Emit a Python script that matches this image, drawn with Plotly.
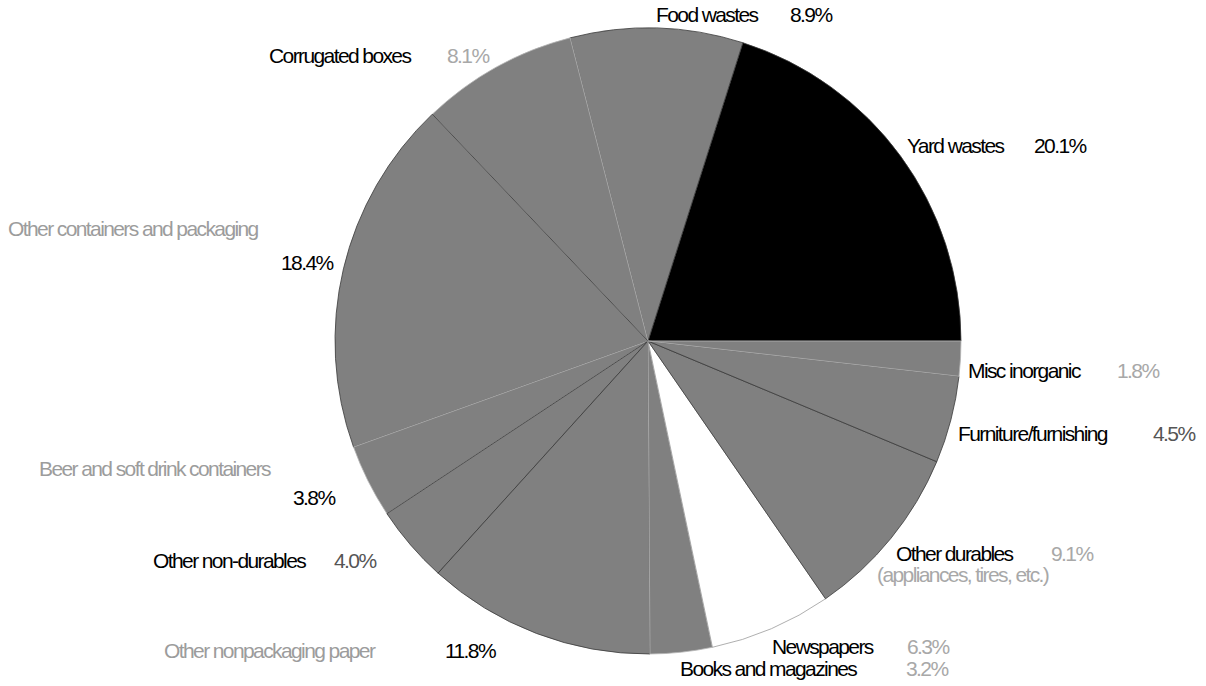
import plotly.graph_objects as go

# ---- data ----
categories = ["Yard wastes", "Food wastes", "Corrugated boxes", "Other containers and packaging",
              "Beer and soft drink containers", "Other non-durables", "Other nonpackaging paper",
              "Books and magazines", "Newspapers", "Other durables", "Furniture/furnishing",
              "Misc inorganic"]
values = [20.1, 8.9, 8.1, 18.4, 3.8, 4.0, 11.8, 3.2, 6.3, 9.1, 4.5, 1.8]
pct_labels = ["20.1%", "8.9%", "8.1%", "18.4%", "3.8%", "4.0%", "11.8%", "3.2%", "6.3%", "9.1%", "4.5%", "1.8%"]
sublabels = {"Other durables": "(appliances, tires, etc.)"}

# ---- styles ----
GRAY = "#808080"
slice_colors = ["#000000", GRAY, GRAY, GRAY, GRAY, GRAY, GRAY, GRAY, "#ffffff", GRAY, GRAY, GRAY]
DARK = "#3a3a3a"
LIGHT = "#b4b4b4"
line_colors = [DARK, DARK, LIGHT, DARK, LIGHT, DARK, DARK, LIGHT, "#9a9a9a", DARK, DARK, LIGHT]

BLACK = "#000000"
LGRAY = "#9c9c9c"
PGRAY = "#a8a8a8"
MGRAY = "#555555"
# name: (name center px, name y px, name color, pct center px, pct y px, pct color)
label_layout = {
    "Yard wastes": (955, 146, BLACK, 1060, 146, BLACK),
    "Food wastes": (707, 15, BLACK, 811, 15, BLACK),
    "Corrugated boxes": (340, 55, BLACK, 468, 55, PGRAY),
    "Other containers and packaging": (133, 228, LGRAY, 307, 262, BLACK),
    "Beer and soft drink containers": (155, 468, LGRAY, 314, 497, BLACK),
    "Other non-durables": (229, 560, BLACK, 355, 560, MGRAY),
    "Other nonpackaging paper": (270, 650, LGRAY, 470, 650, BLACK),
    "Books and magazines": (768, 668, BLACK, 927, 668, PGRAY),
    "Newspapers": (823, 646, BLACK, 928, 646, PGRAY),
    "Other durables": (955, 553, BLACK, 1072, 553, PGRAY),
    "Furniture/furnishing": (1033, 433, BLACK, 1174, 433, MGRAY),
    "Misc inorganic": (1024, 370, BLACK, 1138, 370, PGRAY),
}
sub_layout = {"Other durables": (963, 574, PGRAY)}

W, H = 1206, 686
CX, CY, R = 648, 341, 313
FONT = "Liberation Sans, Arial, sans-serif"
FS = 21
TRACK = "-1.6px"

# first slice starts at 3 o'clock and runs counterclockwise
start_rot = 90 - values[0] / sum(values) * 360

fig = go.Figure(go.Pie(
    labels=categories,
    values=values,
    sort=False,
    direction="counterclockwise",
    rotation=start_rot,
    marker=dict(colors=slice_colors, line=dict(color=line_colors, width=0.8)),
    textinfo="none",
    hoverinfo="label+percent",
    domain=dict(x=[(CX - R) / W, (CX + R) / W], y=[1 - (CY + R) / H, 1 - (CY - R) / H]),
    showlegend=False,
))


def tight(s):
    return f'<span style="letter-spacing:{TRACK}">{s}</span>'


annotations = []
for name, pct in zip(categories, pct_labels):
    nx, ny, nc, px, py, pc = label_layout[name]
    annotations.append(dict(x=nx / W, y=1 - ny / H, text=tight(name), font=dict(color=nc)))
    annotations.append(dict(x=px / W, y=1 - py / H, text=tight(pct), font=dict(color=pc)))
    if name in sublabels:
        sx, sy, sc = sub_layout[name]
        annotations.append(dict(x=sx / W, y=1 - sy / H, text=tight(sublabels[name]), font=dict(color=sc)))

for a in annotations:
    a.update(xref="paper", yref="paper", xanchor="center", yanchor="middle", showarrow=False)
    a["font"].update(family=FONT, size=FS)

fig.update_layout(
    width=W, height=H,
    margin=dict(l=0, r=0, t=0, b=0),
    paper_bgcolor="white", plot_bgcolor="white",
    annotations=annotations,
)

fig.write_html("out.html", config={"displayModeBar": False},
               post_script="document.body.style.margin='0';")
